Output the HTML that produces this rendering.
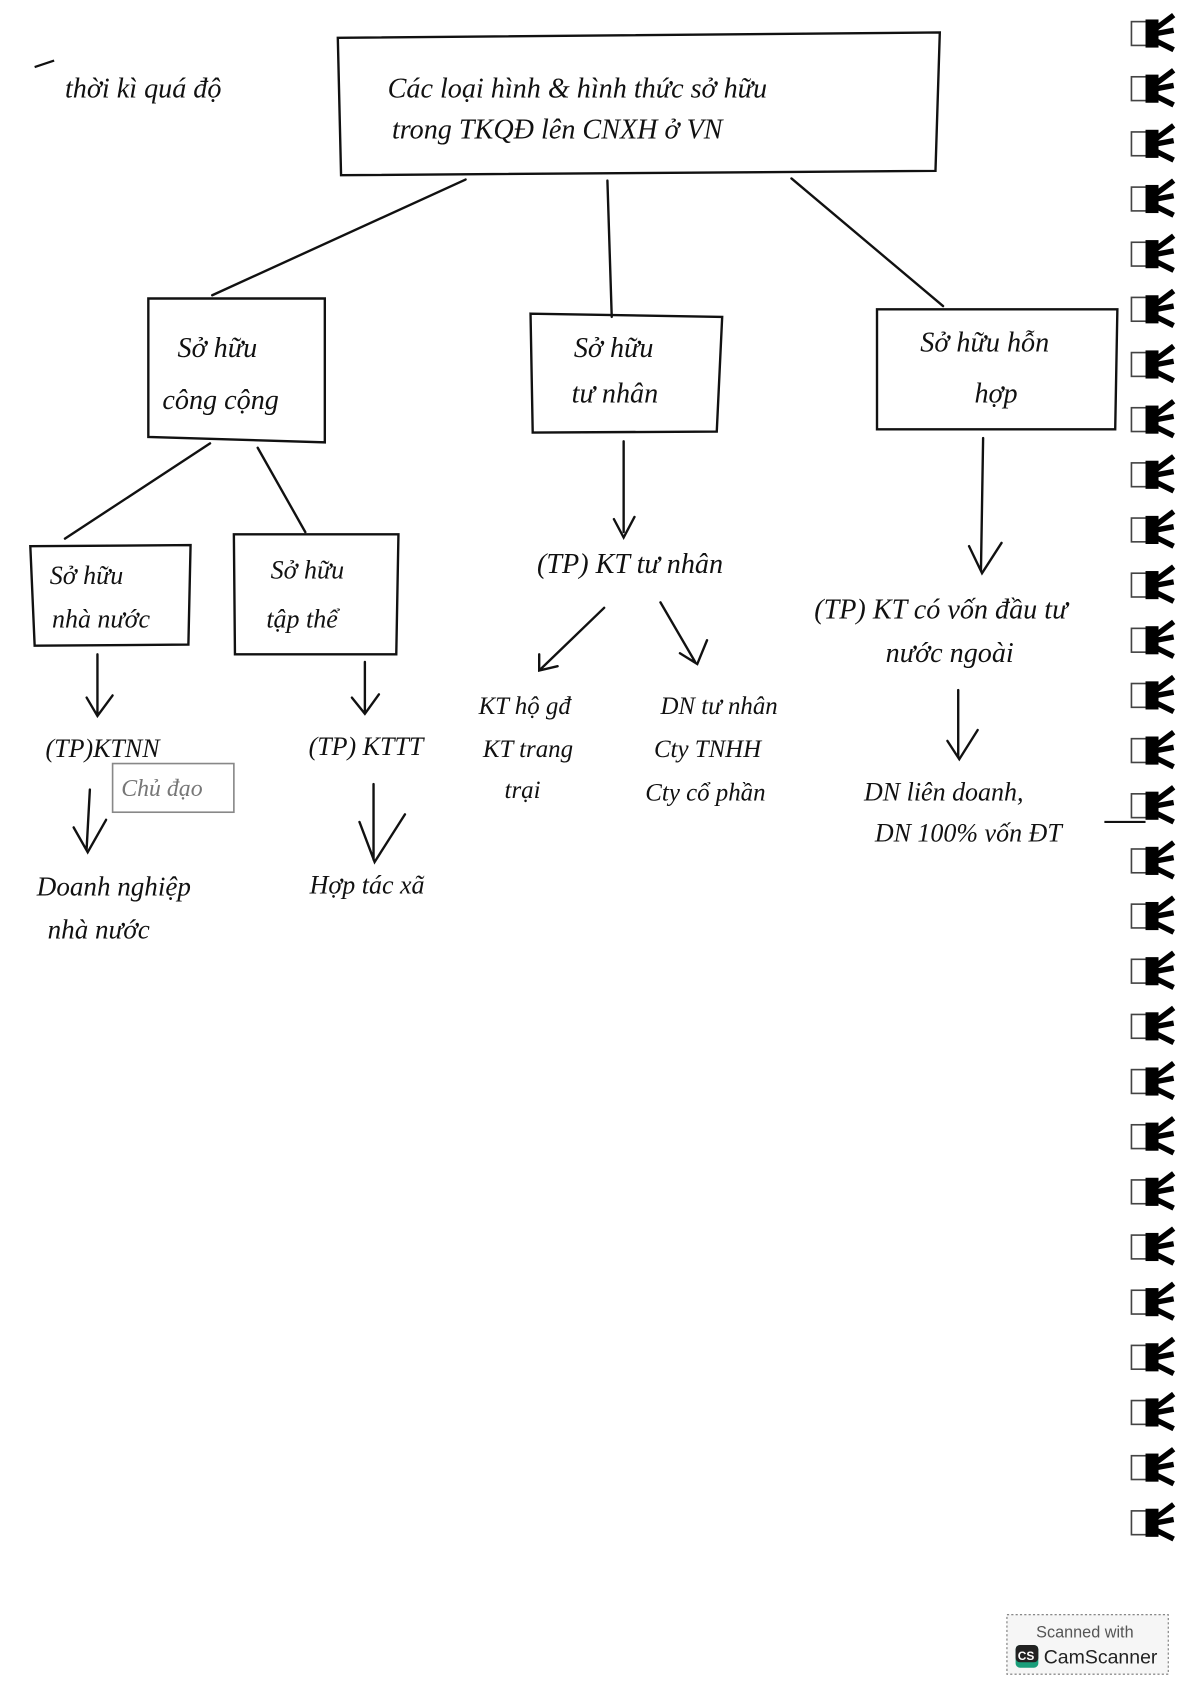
<!DOCTYPE html>
<html><head><meta charset="utf-8"><style>
html,body{margin:0;padding:0;background:#fff;}
svg{display:block;}
text{font-family:"Liberation Serif",serif;font-style:italic;fill:#111;}
</style></head><body>
<svg width="1191" height="1685" viewBox="0 0 1100 1558" preserveAspectRatio="none" xmlns="http://www.w3.org/2000/svg">
<g stroke="#111" stroke-width="2.2" fill="none" stroke-linecap="round">
<!-- title box -->
<path d="M312 35 L868 30 L864 158 L315 162 Z"/>
<!-- connectors from title -->
<path d="M430 166 L196 273"/>
<path d="M561 167 L565 293"/>
<path d="M731 165 L871 283"/>
<!-- boxes -->
<path d="M137 276 L300 276 L300 409 L137 404 Z"/>
<path d="M490 290 L667 293 L662 399 L492 400 Z"/>
<path d="M810 286 L1032 286 L1030 397 L810 397 Z"/>
<path d="M28 505 L176 504 L174 596 L32 597 Z"/>
<path d="M216 494 L368 494 L366 605 L217 605 Z"/>
<!-- from cong cong -->
<path d="M194 410 L60 498"/>
<path d="M238 414 L282 492"/>
<!-- arrows -->
<path d="M90 605 L90 660 M80 645 L90 662 L104 643"/>
<path d="M337 612 L337 658 M325 645 L337 660 L350 642"/>
<path d="M576 408 L576 492 M567 480 L576 497 L586 478"/>
<path d="M558 562 L498 620 M498 605 L498 620 L515 616"/>
<path d="M610 557 L642 612 M653 592 L644 614 L628 604"/>
<path d="M908 405 L906 528 M895 505 L907 530 L925 502"/>
<path d="M885 638 L885 700 M875 685 L886 702 L903 675"/>
<path d="M83 730 L80 785 M68 765 L81 788 L98 758"/>
<path d="M345 725 L345 795 M332 760 L346 797 L374 753"/>
</g>
<rect x="104" y="706" width="112" height="45" fill="none" stroke="#888" stroke-width="1.5"/>
<g font-size="26">
<text x="60" y="90">thời kì quá độ</text>
<path d="M32 62 L50 56" stroke="#111" stroke-width="2"/>
<text x="358" y="90">Các loại hình &amp; hình thức sở hữu</text>
<text x="362" y="128">trong TKQĐ lên CNXH ở VN</text>
<text x="164" y="330">Sở hữu</text>
<text x="150" y="378">công cộng</text>
<text x="530" y="330">Sở hữu</text>
<text x="528" y="372">tư nhân</text>
<text x="850" y="325">Sở hữu hỗn</text>
<text x="900" y="372">hợp</text>
<text x="46" y="540" font-size="24">Sở hữu</text>
<text x="48" y="580" font-size="24">nhà nước</text>
<text x="250" y="535" font-size="24">Sở hữu</text>
<text x="246" y="580" font-size="24">tập thể</text>
<text x="496" y="530">(TP) KT tư nhân</text>
<text x="752" y="572">(TP) KT có vốn đầu tư</text>
<text x="818" y="612">nước ngoài</text>
<text x="42" y="700" font-size="24">(TP)KTNN</text>
<text x="112" y="736" font-size="22" fill="#777" style="fill:#777">Chủ đạo</text>
<text x="285" y="698" font-size="24">(TP) KTTT</text>
<text x="442" y="660" font-size="23">KT hộ gđ</text>
<text x="446" y="700" font-size="23">KT trang</text>
<text x="466" y="738" font-size="23">trại</text>
<text x="610" y="660" font-size="23">DN tư nhân</text>
<text x="604" y="700" font-size="23">Cty TNHH</text>
<text x="596" y="740" font-size="23">Cty cổ phần</text>
<text x="798" y="740" font-size="24">DN liên doanh,</text>
<text x="808" y="778" font-size="24">DN 100% vốn ĐT</text>
<text x="34" y="828" font-size="25">Doanh nghiệp</text>
<text x="44" y="868" font-size="25">nhà nước</text>
<text x="286" y="826" font-size="24">Hợp tác xã</text>
</g>
<path d="M1020 760 L1058 760" stroke="#111" stroke-width="2"/>
<!-- spiral binding -->
<g id="sp">
<rect x="1045" y="20" width="14" height="22" fill="none" stroke="#444" stroke-width="1.5"/>
<rect x="1058" y="18" width="12" height="26" fill="#000"/>
<path d="M1068 26 L1084 14 M1068 31 L1084 28 M1068 38 L1084 46" stroke="#000" stroke-width="5"/>
</g>
<g>
<use href="#sp" y="51"/><use href="#sp" y="102"/><use href="#sp" y="153"/><use href="#sp" y="204"/>
<use href="#sp" y="255"/><use href="#sp" y="306"/><use href="#sp" y="357"/><use href="#sp" y="408"/>
<use href="#sp" y="459"/><use href="#sp" y="510"/><use href="#sp" y="561"/><use href="#sp" y="612"/>
<use href="#sp" y="663"/><use href="#sp" y="714"/><use href="#sp" y="765"/><use href="#sp" y="816"/>
<use href="#sp" y="867"/><use href="#sp" y="918"/><use href="#sp" y="969"/><use href="#sp" y="1020"/>
<use href="#sp" y="1071"/><use href="#sp" y="1122"/><use href="#sp" y="1173"/><use href="#sp" y="1224"/>
<use href="#sp" y="1275"/><use href="#sp" y="1326"/><use href="#sp" y="1377"/>
</g>
<!-- camscanner badge -->
<rect x="930" y="1493" width="149" height="55" fill="#f6f6f6" stroke="#777" stroke-width="1" stroke-dasharray="2,2"/>
<text x="957" y="1514" font-size="15" style="font-family:'Liberation Sans',sans-serif;font-style:normal;fill:#555">Scanned with</text>
<rect x="938" y="1521" width="21" height="21" rx="4" fill="#1a9e7a"/>
<rect x="938" y="1521" width="21" height="16" rx="4" fill="#222"/>
<text x="940" y="1535" font-size="11" style="font-family:'Liberation Sans',sans-serif;font-style:normal;font-weight:bold;fill:#fff">CS</text>
<text x="964" y="1538" font-size="18" style="font-family:'Liberation Sans',sans-serif;font-style:normal;fill:#222">CamScanner</text>
</svg>
</body></html>
